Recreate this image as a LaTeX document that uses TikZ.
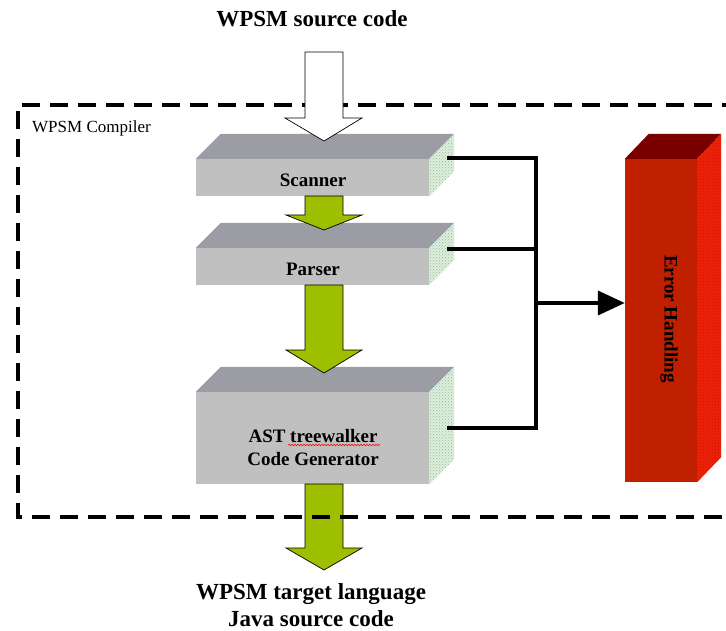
\documentclass[tikz,border=0pt]{standalone}
\usepackage{fontspec}
\setmainfont{Liberation Serif}
\usetikzlibrary{calc,patterns,arrows.meta,decorations.pathmorphing}

\definecolor{boxfront}{RGB}{192,192,192}
\definecolor{boxtop}{RGB}{156,156,164}
\definecolor{boxside}{RGB}{222,238,222}
\definecolor{boxdots}{RGB}{150,190,150}
\definecolor{flowgreen}{RGB}{158,190,0}
\definecolor{errfront}{RGB}{192,32,0}
\definecolor{errtop}{RGB}{122,0,0}
\definecolor{errside}{RGB}{238,34,10}
\definecolor{errdots}{RGB}{200,20,0}

\begin{document}
\begin{tikzpicture}[x=1pt, y=-1pt,
    front/.style={inner sep=0pt, fill=boxfront, minimum width=233pt},
    boxlabel/.style={font=\fontsize{19}{23}\selectfont\bfseries, align=center, inner sep=0pt},
    bigtext/.style={font=\fontsize{23}{27}\selectfont\bfseries, align=center, inner sep=0pt},
    conn/.style={line width=4pt, line join=miter}]
  \useasboundingbox (0,0) rectangle (726,631);
  \clip (0,0) rectangle (726,631);

  \node[bigtext] (src) at (312,19) {WPSM source code};

  % the three stages
  \node[front, minimum height=37pt] (scanner) at (312.5,177.5) {};
  \node[front, minimum height=37pt] (parser) at (312.5,266.5) {};
  \node[front, minimum height=92pt] (astgen) at (312.5,438) {};
  \foreach \b in {scanner, parser, astgen} {
    \fill[boxtop] (\b.north west) -- (\b.north east) -- ++(25,-25)
      -- ($(\b.north west)+(25,-25)$) -- cycle;
    \fill[boxside, postaction={pattern=crosshatch dots, pattern color=boxdots}]
      (\b.north east) -- ++(25,-25) -- ($(\b.south east)+(25,-25)$)
      -- (\b.south east) -- cycle;
  }
  \node[boxlabel] (scannerlbl) at (313,180) {Scanner};
  \node[boxlabel] (parserlbl) at (313,269) {Parser};
  \node[boxlabel] (astlbl) at (313,447) {AST treewalker\\Code Generator};
  \draw[red, line width=0.6pt, decorate,
        decoration={snake, amplitude=0.7pt, segment length=3pt}]
    (288,445) -- (380,445);

  % error handling
  \node[inner sep=0pt, fill=errfront, minimum width=72pt, minimum height=323pt]
    (errh) at (661,320.5) {};
  \fill[errtop] (errh.north west) -- (errh.north east) -- ++(24,-25)
    -- ($(errh.north west)+(24,-25)$) -- cycle;
  \fill[errside, postaction={pattern=crosshatch dots, pattern color=errdots}]
    (errh.north east) -- ++(24,-25) -- ($(errh.south east)+(24,-25)$)
    -- (errh.south east) -- cycle;
  \node[boxlabel, rotate=-90] (errlbl) at (669,319) {Error Handling};

  % flow arrows
  \draw[fill=flowgreen, line width=0.7pt] (305,196) -- (305,215) -- (286,215)
    -- (324,230) -- (362,215) -- (343,215) -- (343,196) -- cycle;
  \draw[fill=flowgreen, line width=0.7pt] (305,285) -- (305,350) -- (286,350)
    -- (324,373) -- (362,350) -- (343,350) -- (343,285) -- cycle;
  \draw[fill=flowgreen, line width=0.7pt] (305,484) -- (305,548) -- (286,548)
    -- (324,570) -- (362,548) -- (343,548) -- (343,484) -- cycle;

  % error paths
  \coordinate (junc) at (536,303);
  \draw[conn] ($(scanner.east)+(18,-19)$) -| (junc);
  \draw[conn] ($(astgen.east)+(18,-10)$) -| (junc);
  \draw[conn] ($(parser.east)+(18,-17)$) -- +(89,0);
  \draw[conn, -{Triangle[length=27pt, width=24pt]}] (junc) -- (junc -| errh.west);

  % compiler frame
  \draw[line width=4pt, dash pattern=on 18pt off 10pt]
    (740,105) -- (18,105) -- (18,517) -- (740,517);
  \node[anchor=west, inner sep=0pt, font=\fontsize{17}{20}\selectfont]
    (complbl) at (32,128) {WPSM Compiler};

  \draw[fill=white, line width=0.7pt] (305,52) -- (305,118) -- (285,118)
    -- (324,141) -- (362,118) -- (343,118) -- (343,52) -- cycle;

  \node[bigtext] (target) at (311,605) {WPSM target language\\Java source code};
\end{tikzpicture}
\end{document}
